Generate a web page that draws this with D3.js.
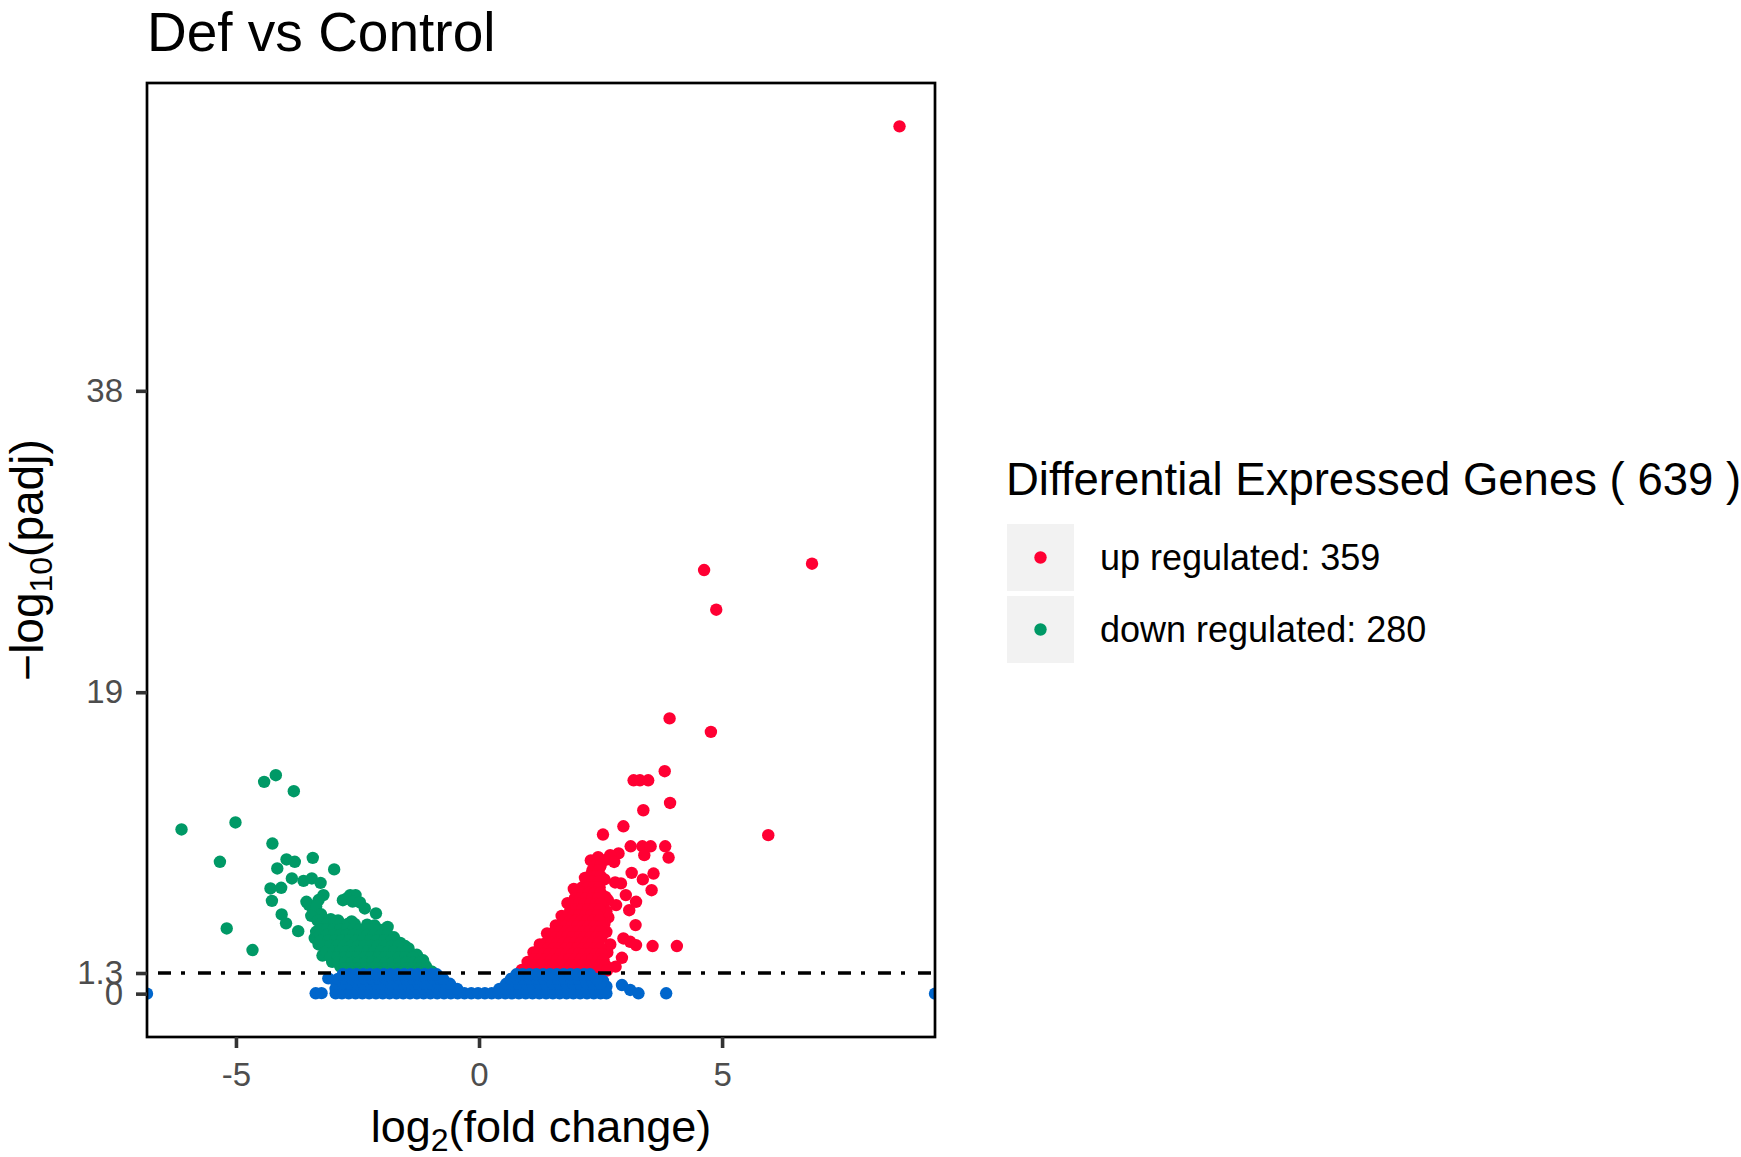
<!DOCTYPE html>
<html><head><meta charset="utf-8">
<script src="https://cdn.jsdelivr.net/npm/d3@7"></script>
<style>body{margin:0;background:#fff}</style>
</head><body>
<svg id="chart" width="1741" height="1157"></svg>
<script>
// ---------------- data ----------------
const chartTitle = "Def vs Control";
const xTicks = [-5, 0, 5];
const yTicks = [0, 1.3, 19, 38];
const threshold = 1.3;
const legendTitle = "Differential Expressed Genes ( 639 )";
const legendLabels = ["up regulated: 359", "down regulated: 280"];
const groupColors = {up: "#FF0033", down: "#009966", ns: "#0066CC"};

// up regulated: scattered points [log2FC, -log10 padj]
const upPoints = [
 [8.65,54.67],[6.85,27.1],[4.63,26.7],[4.88,24.2],[3.92,17.35],[4.77,16.5],[5.95,9.99],
 [3.82,14.02],[3.18,13.45],[3.31,13.45],[3.48,13.45],[3.93,12.02],[3.38,11.56],[2.97,10.55],
 [2.55,10.03],[3.12,9.29],[3.36,9.29],[3.53,9.29],[3.83,9.29],[3.9,8.58],[3.4,8.73],[2.87,8.84],
 [2.7,8.73],[2.62,8.45],[2.78,8.3],[3.14,7.61],[3.59,7.57],[3.37,7.2],[3.55,6.52],[2.8,7.01],
 [2.92,6.95],[3.02,6.21],[3.23,5.79],[2.82,5.58],[3.09,5.26],[2.66,4.8],[3.22,4.32],[2.97,3.48],
 [3.11,3.27],[3.23,3.06],[3.57,3.0],[4.07,3.0],[2.94,2.26],[2.81,1.7],[2.56,1.95],[2.39,8.31],
 [2.49,7.99],[2.65,5.9],[2.62,3.9],[2.7,3.1],
 [2.58,7.2],[2.6,6.1],[2.62,5.2],[2.58,4.4],[2.64,2.6],[2.3,8.4],[2.45,8.6],[2.18,7.3],
 [1.95,6.6],[1.82,5.7],[1.7,4.9],[1.58,4.3],[1.4,3.8],[1.25,3.1],[1.12,2.6],[1.0,2.0],[0.88,1.5]
];
// up regulated: dense wedge, rows of [-log10 padj, [log2FC ...]]
const upRows = [
 [8.1,[2.4,2.5]],
 [7.75,[2.33,2.45]],
 [7.4,[2.28,2.4,2.5]],
 [7.05,[2.22,2.34,2.46]],
 [6.7,[2.12,2.24,2.36,2.48]],
 [6.35,[2.02,2.14,2.26,2.38,2.5]],
 [6.0,[1.97,2.09,2.21,2.33,2.45]],
 [5.65,[1.93,2.05,2.17,2.29,2.41,2.5]],
 [5.3,[1.88,2.0,2.12,2.24,2.36,2.48]],
 [4.95,[1.83,1.95,2.07,2.19,2.31,2.43]],
 [4.6,[1.75,1.87,1.99,2.11,2.23,2.35,2.47]],
 [4.25,[1.66,1.78,1.9,2.02,2.14,2.26,2.38,2.5]],
 [3.9,[1.55,1.67,1.79,1.91,2.03,2.15,2.27,2.39,2.5]],
 [3.55,[1.45,1.57,1.69,1.81,1.93,2.05,2.17,2.29,2.41,2.52]],
 [3.2,[1.38,1.5,1.62,1.74,1.86,1.98,2.1,2.22,2.34,2.46]],
 [2.85,[1.3,1.42,1.54,1.66,1.78,1.9,2.02,2.14,2.26,2.38,2.5]],
 [2.5,[1.21,1.33,1.45,1.57,1.69,1.81,1.93,2.05,2.17,2.29,2.41,2.52]],
 [2.15,[1.13,1.25,1.37,1.49,1.61,1.73,1.85,1.97,2.09,2.21,2.33,2.45,2.56]],
 [1.8,[1.05,1.17,1.29,1.41,1.53,1.65,1.77,1.89,2.01,2.13,2.25,2.37,2.49,2.6]],
 [1.45,[0.96,1.08,1.2,1.32,1.44,1.56,1.68,1.8,1.92,2.04,2.16,2.28,2.4,2.52,2.63]]
];

// down regulated
const downPoints = [
 [-4.18,13.77],[-4.42,13.35],[-3.81,12.76],[-6.12,10.35],[-5.01,10.79],[-4.25,9.46],[-5.33,8.31],
 [-5.19,4.11],[-4.66,2.75],[-3.42,8.56],[-2.98,7.83],[-3.96,8.46],[-3.79,8.31],[-4.15,7.89],
 [-3.85,7.26],[-3.61,7.11],[-3.44,7.26],[-3.26,6.98],[-4.29,6.63],[-4.07,6.67],[-4.26,5.85],
 [-4.06,4.99],[-3.97,4.43],[-3.72,3.94],[-3.55,5.79],[-3.2,6.21],[-3.41,5.26],[-2.8,5.89],
 [-2.65,6.21],[-2.54,6.21],[-2.35,5.37],[-2.12,5.06],[-1.52,3.0],[-2.65,1.59],[-3.5,5.6],
 [-3.3,5.9],[-3.35,5.5],[-3.25,5.0],[-3.45,4.9],[-2.72,6.0],[-2.6,5.8],[-2.45,5.75],
 [-0.98,1.4],[-1.1,1.75],
 [-3.32,4.6],[-3.05,4.7],[-2.9,4.62],[-2.62,4.55],[-2.3,4.35],[-2.15,4.3],[-1.88,4.2],
 [-1.75,3.55],[-1.62,3.2],[-1.45,2.85],[-1.28,2.45],[-1.15,2.1],[-3.38,3.5],[-3.35,3.9],
 [-3.3,3.1],[-3.22,2.4],[-3.02,2.0],[-2.85,1.7]
];
const downRows = [
 [4.4,[-3.25,-3.12,-2.98,-2.85,-2.7,-2.56]],
 [4.05,[-3.27,-3.14,-3.0,-2.86,-2.72,-2.58,-2.45,-2.32,-2.2,-2.07,-1.95]],
 [3.7,[-3.27,-3.13,-2.99,-2.85,-2.72,-2.58,-2.44,-2.3,-2.16,-2.02,-1.88]],
 [3.35,[-3.25,-3.1,-2.96,-2.82,-2.67,-2.53,-2.39,-2.24,-2.1,-1.95,-1.8]],
 [3.0,[-3.2,-3.06,-2.92,-2.78,-2.64,-2.5,-2.36,-2.22,-2.08,-1.94,-1.8,-1.66]],
 [2.65,[-3.14,-3.0,-2.86,-2.72,-2.58,-2.44,-2.3,-2.16,-2.02,-1.88,-1.74,-1.6,-1.5]],
 [2.3,[-3.05,-2.91,-2.77,-2.63,-2.49,-2.35,-2.21,-2.07,-1.93,-1.79,-1.65,-1.51,-1.37]],
 [1.95,[-2.9,-2.76,-2.62,-2.48,-2.34,-2.2,-2.06,-1.92,-1.78,-1.64,-1.5,-1.36,-1.22]],
 [1.6,[-2.76,-2.62,-2.48,-2.34,-2.2,-2.06,-1.92,-1.78,-1.64,-1.5,-1.36,-1.22,-1.08]],
 [1.35,[-2.62,-2.48,-2.34,-2.2,-2.06,-1.92,-1.78,-1.64,-1.5,-1.36,-1.22,-1.08,-0.96]]
];

// not significant
const nsPoints = [
 [-6.83,0],[9.38,0],[-3.36,0.02],[-3.24,0.03],[-3.1,0.96],[-2.69,1.1],
 [2.94,0.54],[3.11,0.23],[3.28,0.02],[3.85,0.02],[2.62,0.45],[2.55,0.8]
];
const nsRows = [
 [0.02,[-2.95,-2.82,-2.68,-2.54,-2.4,-2.26,-2.12,-1.98,-1.84,-1.7,-1.56,-1.42,-1.28,-1.14,-1.0,
        -0.86,-0.72,-0.58,-0.44,-0.3,-0.16,-0.02,0.12,0.26,0.4,0.54,0.68,0.82,0.96,1.1,1.24,1.38,
        1.52,1.66,1.8,1.94,2.08,2.22,2.36,2.5,2.62]],
 [0.3,[-2.95,-2.81,-2.67,-2.53,-2.39,-2.25,-2.11,-1.97,-1.83,-1.69,-1.55,-1.41,-1.27,-1.13,-0.99,
       -0.85,-0.71,-0.57,-0.45,0.42,0.55,0.69,0.83,0.97,1.11,1.25,1.39,1.53,1.67,1.81,1.95,2.09,
       2.23,2.37,2.5,2.58]],
 [0.62,[-2.93,-2.79,-2.65,-2.51,-2.37,-2.23,-2.09,-1.95,-1.81,-1.67,-1.53,-1.39,-1.25,-1.11,-0.97,
        -0.83,-0.7,-0.6,0.56,0.68,0.82,0.96,1.1,1.24,1.38,1.52,1.66,1.8,1.94,2.08,2.22,2.36,2.5]],
 [0.93,[-2.9,-2.76,-2.62,-2.48,-2.34,-2.2,-2.06,-1.92,-1.78,-1.64,-1.5,-1.36,-1.22,-1.08,-0.94,
        -0.8,-0.74,0.66,0.78,0.92,1.06,1.2,1.34,1.48,1.62,1.76,1.9,2.04,2.18,2.32,2.42]],
 [1.22,[-2.8,-2.66,-2.52,-2.38,-2.24,-2.1,-1.96,-1.82,-1.68,-1.54,-1.4,-1.26,-1.12,-0.98,-0.87,
        0.77,0.9,1.04,1.18,1.32,1.46,1.6,1.74,1.88,2.02,2.16,2.28]]
];

// ---------------- build ----------------
const rowsToPoints = rows => rows.flatMap(([yv, xs]) => xs.map(xv => [xv, yv]));
const groups = [
  {key: "down", pts: downPoints.concat(rowsToPoints(downRows))},
  {key: "up",   pts: upPoints.concat(rowsToPoints(upRows))},
  {key: "ns",   pts: nsPoints.concat(rowsToPoints(nsRows))}
];
const allPts = groups.flatMap(g => g.pts);

const FONT = "'Liberation Sans', Arial, Helvetica, sans-serif";
const panel = {left: 147, top: 83, right: 935, bottom: 1037};

const svg = d3.select("#chart").style("font-family", FONT);

const xExt = d3.extent(allPts, d => d[0]);
const yExt = [0, d3.max(allPts, d => d[1])];
const yPad = (yExt[1] - yExt[0]) * 0.05;

const x = d3.scaleLinear().domain(xExt).range([panel.left, panel.right]);
const y = d3.scaleLinear().domain([yExt[0] - yPad, yExt[1] + yPad]).range([panel.bottom, panel.top]);

// clip
svg.append("defs").append("clipPath").attr("id", "clip")
  .append("rect").attr("x", panel.left).attr("y", panel.top)
  .attr("width", panel.right - panel.left).attr("height", panel.bottom - panel.top);

const plot = svg.append("g").attr("clip-path", "url(#clip)");
groups.forEach(g => {
  plot.append("g").selectAll("circle").data(g.pts).join("circle")
    .attr("cx", d => x(d[0])).attr("cy", d => y(d[1])).attr("r", 6.2)
    .attr("fill", groupColors[g.key]);
});

// threshold line
plot.append("line")
  .attr("x1", panel.left).attr("x2", panel.right)
  .attr("y1", y(threshold)).attr("y2", y(threshold))
  .attr("stroke", "#000").attr("stroke-width", 3.5)
  .attr("stroke-dasharray", "13,10,4,13").attr("stroke-dashoffset", 29);

// panel border
svg.append("rect").attr("x", panel.left).attr("y", panel.top)
  .attr("width", panel.right - panel.left).attr("height", panel.bottom - panel.top)
  .attr("fill", "none").attr("stroke", "#000").attr("stroke-width", 2.7);

// axes
const xAxis = svg.append("g").attr("transform", `translate(0,${panel.bottom})`)
  .call(d3.axisBottom(x).tickValues(xTicks).tickSize(11).tickPadding(15).tickFormat(d3.format("d")));
const yAxis = svg.append("g").attr("transform", `translate(${panel.left},0)`)
  .call(d3.axisLeft(y).tickValues(yTicks).tickSize(11).tickPadding(13).tickFormat(d => String(d)));
[xAxis, yAxis].forEach(a => {
  a.select(".domain").remove();
  a.selectAll(".tick line").attr("stroke", "#333333").attr("stroke-width", 3.6);
  a.selectAll(".tick text").attr("fill", "#4D4D4D").style("font-size", "33px").style("font-family", FONT);
});
xAxis.selectAll(".tick text").text(d => d < 0 ? "-" + Math.abs(d) : String(d));

// title
svg.append("text").attr("x", panel.left).attr("y", 51)
  .style("font-size", "55px").attr("fill", "#000").text(chartTitle);

// x axis title
const xt = svg.append("text").attr("x", (panel.left + panel.right) / 2).attr("y", 1142)
  .attr("text-anchor", "middle").style("font-size", "45px").attr("fill", "#000");
xt.append("tspan").text("log");
xt.append("tspan").attr("dy", 9).style("font-size", "32px").text("2");
xt.append("tspan").attr("dy", -9).text("(fold change)");

// y axis title
const yt = svg.append("text")
  .attr("transform", `translate(43,${(panel.top + panel.bottom) / 2}) rotate(-90)`)
  .attr("text-anchor", "middle").style("font-size", "46px").attr("fill", "#000");
yt.append("tspan").text("\u2212log");
yt.append("tspan").attr("dy", 9).style("font-size", "32px").text("10");
yt.append("tspan").attr("dy", -9).text("(padj)");

// legend
const lg = svg.append("g");
lg.append("text").attr("x", 1006).attr("y", 495).style("font-size", "45.5px").attr("fill", "#000").text(legendTitle);
const legendKeys = ["up", "down"];
legendKeys.forEach((k, i) => {
  const top = 524 + i * 72;
  lg.append("rect").attr("x", 1007).attr("y", top).attr("width", 67).attr("height", 67).attr("fill", "#F2F2F2");
  lg.append("circle").attr("cx", 1040.5).attr("cy", top + 33.5).attr("r", 6.2).attr("fill", groupColors[k]);
  lg.append("text").attr("x", 1100).attr("y", top + 46).style("font-size", "36px").attr("fill", "#000").text(legendLabels[i]);
});
</script>
</body></html>
